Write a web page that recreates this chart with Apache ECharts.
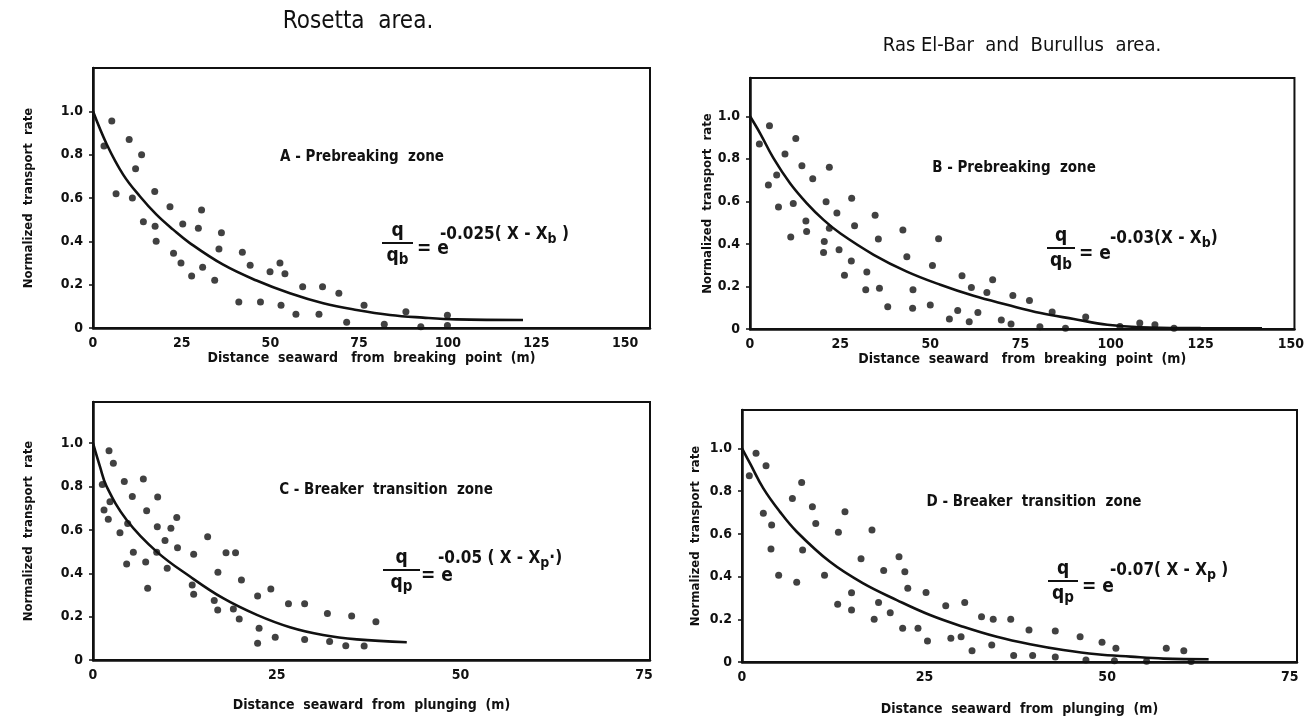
<!DOCTYPE html>
<html><head><meta charset="utf-8">
<script src="https://cdn.jsdelivr.net/npm/echarts@6/dist/echarts.min.js"></script>
<style>html,body{margin:0;padding:0;background:#fff}#c{width:1307px;height:723px}</style>
</head><body><div id="c"></div>
<script>
// ---- Data ----
const titles = ['Rosetta  area.', 'Ras El-Bar  and  Burullus  area.'];
const panelLabels = ['A - Prebreaking  zone', 'B - Prebreaking  zone', 'C - Breaker  transition  zone', 'D - Breaker  transition  zone'];
const yAxisName = 'Normalized  transport  rate';
const xAxisNames = ['Distance  seaward   from  breaking  point  (m)', 'Distance  seaward   from  breaking  point  (m)', 'Distance  seaward  from  plunging  (m)', 'Distance  seaward  from  plunging  (m)'];
const yTickLabels = ['0', '0.2', '0.4', '0.6', '0.8', '1.0'];

// Panel A: Rosetta, prebreaking
const ptsAx = [5.3,3.1,10.2,13.7,12.0,6.5,11.1,17.4,14.2,17.5,17.8,21.7,25.3,22.7,24.8,27.8,30.9,29.7,30.6,34.3,35.5,36.2,41.1,42.1,44.3,47.2,49.9,52.7,54.1,53.0,57.2,59.1,63.7,64.7,69.3,71.5,76.4,82.1,88.2,92.4,99.9,99.9];
const ptsAy = [0.955,0.84,0.87,0.80,0.735,0.62,0.60,0.63,0.49,0.47,0.40,0.56,0.48,0.345,0.30,0.24,0.28,0.46,0.545,0.22,0.365,0.44,0.12,0.35,0.29,0.12,0.26,0.30,0.25,0.105,0.063,0.19,0.063,0.19,0.16,0.026,0.105,0.017,0.075,0.006,0.059,0.012];
const curAx = [0,3.9,8.5,13.2,17.9,22.6,27.3,36.7,46.1,55.5,64.9,74.3,83.7,93.0,102.4,121.2];
const curAy = [1.0,0.847,0.708,0.608,0.523,0.454,0.392,0.292,0.219,0.16,0.114,0.083,0.06,0.048,0.04,0.037];

// Panel B: Ras El-Bar and Burullus, prebreaking
const ptsBx = [2.6,5.4,5.1,7.4,9.7,12.7,7.9,12.0,11.3,14.4,17.4,15.5,15.7,22.0,21.1,24.1,22.0,20.6,20.4,24.7,28.2,29.0,28.1,26.2,34.7,35.6,32.4,32.1,35.9,38.2,42.4,43.5,45.2,45.1,50.0,50.6,52.3,55.3,57.6,58.8,61.4,60.8,63.2,65.7,67.3,69.7,72.4,72.9,77.5,80.4,83.8,87.5,93.1,102.6,108.1,112.3,117.6];
const ptsBy = [0.87,0.956,0.677,0.724,0.823,0.895,0.574,0.59,0.432,0.767,0.706,0.508,0.458,0.76,0.598,0.545,0.474,0.411,0.36,0.372,0.615,0.485,0.32,0.253,0.535,0.423,0.268,0.185,0.192,0.105,0.465,0.34,0.185,0.097,0.113,0.299,0.424,0.047,0.087,0.25,0.195,0.034,0.078,0.172,0.231,0.042,0.023,0.158,0.134,0.011,0.08,0.004,0.056,0.012,0.028,0.02,0.004];
const curBx = [0,2.8,6.5,11.1,15.7,20.4,25.0,34.3,43.5,52.8,62.0,71.3,80.6,89.8,99.1,108.3,125,142];
const curBy = [1.0,0.92,0.803,0.685,0.592,0.513,0.45,0.349,0.27,0.208,0.156,0.114,0.075,0.047,0.02,0.008,0.004,0.003];

// Panel C: Rosetta, breaker transition
const ptsCx = [2.18,2.77,1.27,2.31,1.5,2.08,4.26,5.35,6.85,4.72,3.67,7.3,8.8,8.75,5.49,4.58,7.17,7.44,9.8,10.6,11.4,11.5,10.1,8.67,13.7,15.6,13.5,13.7,17.0,18.1,19.4,20.2,16.5,16.97,19.1,19.9,22.4,24.2,22.6,22.4,24.8,26.6,28.8,28.8,31.9,32.2,34.4,35.2,36.9,38.5];
const ptsCy = [0.965,0.908,0.81,0.73,0.692,0.649,0.823,0.754,0.835,0.63,0.587,0.688,0.752,0.615,0.497,0.443,0.452,0.331,0.551,0.608,0.657,0.518,0.423,0.497,0.488,0.569,0.346,0.303,0.405,0.495,0.495,0.369,0.274,0.231,0.235,0.189,0.295,0.328,0.146,0.077,0.105,0.26,0.26,0.095,0.215,0.085,0.066,0.203,0.065,0.177];
const curCx = [0,0.95,1.86,4.58,8.66,13.2,17.7,22.3,26.8,31.3,35.9,42.7];
const curCy = [1.0,0.892,0.80,0.646,0.5,0.385,0.285,0.208,0.151,0.115,0.095,0.082];

// Panel D: Ras El-Bar and Burullus, breaker transition
const ptsDx = [1.0,1.92,3.29,2.92,4.06,3.97,5.02,6.9,8.17,8.3,7.49,9.64,10.1,11.3,13.2,14.1,13.1,15.0,15.0,16.3,17.8,19.4,18.7,18.1,20.3,21.5,22.3,22.7,22.0,24.1,25.2,25.4,27.9,28.6,30.0,30.5,31.5,32.8,34.2,34.4,36.8,37.2,39.3,39.8,42.9,42.9,46.3,47.1,49.3,51.2,51.0,55.4,58.1,60.5,61.5];
const ptsDy = [0.872,0.977,0.919,0.696,0.641,0.529,0.406,0.766,0.841,0.524,0.373,0.727,0.649,0.406,0.607,0.703,0.271,0.324,0.243,0.483,0.618,0.429,0.279,0.2,0.231,0.493,0.423,0.345,0.158,0.158,0.326,0.098,0.263,0.111,0.118,0.279,0.053,0.212,0.08,0.2,0.2,0.03,0.15,0.031,0.145,0.023,0.118,0.009,0.092,0.064,0.006,0.003,0.064,0.053,0.002];
const curDx = [0,1.1,2.92,5.2,7.5,12.05,16.6,21.2,25.75,30.3,34.9,39.45,44.0,48.6,53.2,57.7,63.9];
const curDy = [1.0,0.93,0.813,0.703,0.61,0.469,0.368,0.29,0.22,0.165,0.118,0.083,0.056,0.036,0.025,0.016,0.013];

// ---- Build chart ----
const FONT = "'Liberation Sans Narrow','DejaVu Sans Condensed','Liberation Sans',sans-serif";
const INK = '#111111';
const zip = (a, b) => a.map((v, i) => [v, b[i]]);

const panels = [
  {grid:{left:93, top:68, width:557, height:260}, xmax:157, ymax:1.2, pts:[ptsAx,ptsAy], cur:[curAx,curAy]},
  {grid:{left:750, top:78, width:547, height:251}, xmax:151, ymax:1.18, pts:[ptsBx,ptsBy], cur:[curBx,curBy]},
  {grid:{left:93, top:402, width:557, height:258}, xmax:75.8, ymax:1.19, pts:[ptsCx,ptsCy], cur:[curCx,curCy]},
  {grid:{left:742, top:410, width:555, height:252}, xmax:76, ymax:1.18, pts:[ptsDx,ptsDy], cur:[curDx,curDy]}
];
const yNameGap = [58, 36, 58, 40];
const xNameGap = [18, 20, 38, 40];

const grid = [], xAxis = [], yAxis = [], series = [];
panels.forEach((p, i) => {
  grid.push(Object.assign({show:true, borderColor:INK, borderWidth:2, backgroundColor:'transparent'}, p.grid));
  xAxis.push({
    gridIndex:i, type:'value', min:0, max:p.xmax, interval:25,
    name:xAxisNames[i], nameLocation:'middle', nameGap:xNameGap[i],
    nameTextStyle:{fontFamily:FONT, fontSize:14, fontWeight:'bold', color:INK},
    axisLine:{lineStyle:{color:INK, width:2.5}},
    axisTick:{show:false}, splitLine:{show:false},
    axisLabel:{fontFamily:FONT, fontSize:14, fontWeight:'bold', color:INK, margin:8,
      showMaxLabel:false, formatter:v => (Math.abs(v % 25) < 1e-6 ? String(v) : '')}
  });
  yAxis.push({
    gridIndex:i, type:'value', min:0, max:p.ymax, interval:0.2,
    name:yAxisName, nameLocation:'middle', nameGap:yNameGap[i], nameRotate:90,
    nameTextStyle:{fontFamily:FONT, fontSize:13, fontWeight:'bold', color:INK},
    axisLine:{lineStyle:{color:INK, width:2.5}},
    axisTick:{show:true, length:4, lineStyle:{color:INK, width:1.5}}, splitLine:{show:false},
    axisLabel:{fontFamily:FONT, fontSize:14, fontWeight:'bold', color:INK, margin:10,
      showMaxLabel:false,
      formatter:v => { const k = Math.round(v / 0.2); return (Math.abs(v - k*0.2) < 1e-6 && k <= 5) ? yTickLabels[k] : ''; }}
  });
  series.push({type:'scatter', xAxisIndex:i, yAxisIndex:i, data:zip(p.pts[0], p.pts[1]),
    symbol:'circle', symbolSize:7, itemStyle:{color:INK}, silent:true, z:3});
  series.push({type:'line', xAxisIndex:i, yAxisIndex:i, data:zip(p.cur[0], p.cur[1]),
    smooth:0.4, showSymbol:false, lineStyle:{color:INK, width:2.6}, silent:true, z:4});
});

const graphic = [];
graphic.push({type:'text', x:358, y:22, style:{text:titles[0], fontFamily:FONT, fontSize:24, fill:INK, textAlign:'center', textVerticalAlign:'middle'}});
graphic.push({type:'text', x:1022, y:46, style:{text:titles[1], fontFamily:FONT, fontSize:20, fill:INK, textAlign:'center', textVerticalAlign:'middle'}});
const labelPos = [[362,157],[1014,168],[386,490],[1034,502]];
labelPos.forEach((p, i) => graphic.push({type:'text', x:p[0], y:p[1],
  style:{text:panelLabels[i], fontFamily:FONT, fontSize:15, fontWeight:'bold', fill:INK, textAlign:'center', textVerticalAlign:'middle'}}));

// equations: [barX1, barX2, barY, sub, eqX, supX, supY, coef, supSub, tail]
const eqs = [
  [382, 413, 243, 'b', 417, 440, 235, '-0.025( X - X', 'b', ' )'],
  [1047, 1075, 248, 'b', 1079, 1110, 239, '-0.03(X - X', 'b', ')'],
  [383, 420, 570, 'p', 421, 438, 559, '-0.05 ( X - X', 'p', '·)'],
  [1048, 1078, 581, 'p', 1082, 1110, 571, '-0.07( X - X', 'p', ' )']
];
eqs.forEach(e => {
  const [x1, x2, y, sub, ex, sx, sy, coef, ss, tail] = e;
  const cx = (x1 + x2) / 2;
  graphic.push({type:'line', shape:{x1:x1, y1:y, x2:x2, y2:y}, style:{stroke:INK, lineWidth:2}});
  graphic.push({type:'text', x:cx, y:y - 2, style:{text:'q', fontFamily:FONT, fontSize:19, fontWeight:'bold', fill:INK, textAlign:'center', textVerticalAlign:'bottom'}});
  graphic.push({type:'text', x:cx, y:y + 2, style:{text:'{a|q}{b|' + sub + '}', textAlign:'center', textVerticalAlign:'top',
    rich:{a:{fontFamily:FONT, fontSize:19, fontWeight:'bold', fill:INK}, b:{fontFamily:FONT, fontSize:15, fontWeight:'bold', fill:INK, padding:[8,0,0,0]}}}});
  graphic.push({type:'text', x:ex, y:y + 6, style:{text:'= e', fontFamily:FONT, fontSize:19, fontWeight:'bold', fill:INK, textAlign:'left', textVerticalAlign:'middle'}});
  graphic.push({type:'text', x:sx, y:sy, style:{text:'{a|' + coef + '}{b|' + ss + '}{a|' + tail + '}', textAlign:'left', textVerticalAlign:'middle',
    rich:{a:{fontFamily:FONT, fontSize:17, fontWeight:'bold', fill:INK}, b:{fontFamily:FONT, fontSize:14, fontWeight:'bold', fill:INK, padding:[8,0,0,0]}}}});
});

const chart = echarts.init(document.getElementById('c'), null, {renderer:'canvas'});
chart.setOption({backgroundColor:'#ffffff', animation:false, grid, xAxis, yAxis, series, graphic});
</script></body></html>
